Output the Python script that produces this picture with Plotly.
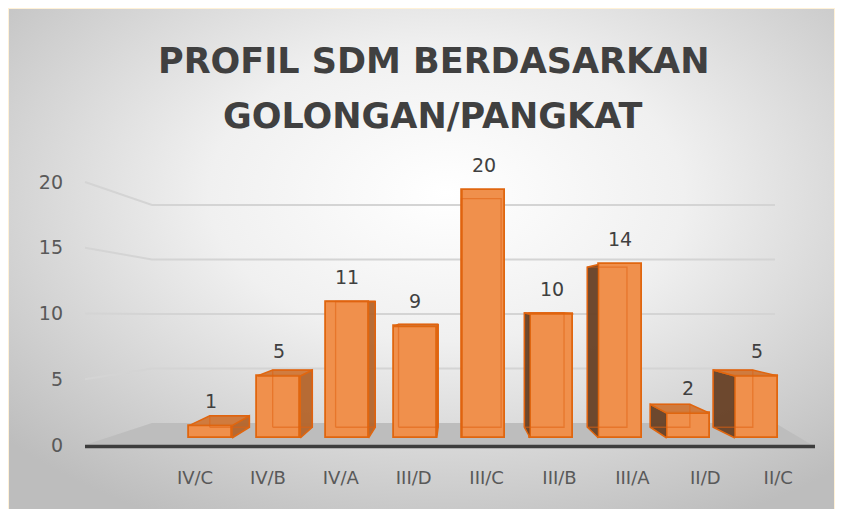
import base64
import plotly.graph_objects as go

# ---------------- data ----------------
categories = ["IV/C", "IV/B", "IV/A", "III/D", "III/C", "III/B", "III/A", "II/D", "II/C"]
values = [1, 5, 11, 9, 20, 10, 14, 2, 5]
y_ticks = [0, 5, 10, 15, 20]
title_lines = ["PROFIL SDM BERDASARKAN", "GOLONGAN/PANGKAT"]

# ---------------- geometry (page-pixel styling constants) ----------------
PAGE_W, PAGE_H = 843, 509
OFF = 8                                 # browser body margin
W, H = PAGE_W - OFF, PAGE_H - OFF
L, R, T, B = 68, 832, 140, 460          # plot area (page pixels)
BAR_X0, BAR_DX = 210.5, 68.25          # first bar centre / spacing (front faces)
LAB_X0, LAB_DX = 195.0, 72.9           # category label centres
BAR_Y0, BAR_DY = 438.0, 12.4           # bar base / px per unit
FRONT_Y0, FRONT_DY = 445.0, 13.15      # front edge of the y scale
BACK_Y0, BACK_DY = 423.0, 10.9         # back wall scale
WALL_FRONT_X, WALL_BACK_X, WALL_END_X = 85, 152, 775
FLOOR_RIGHT_FRONT = 812
AXIS_END = 815
VP = (455.0, 300.0)                     # vanishing point
DEPTH = 0.078
HALF_W = 0.315


def X(px):
    return (px - BAR_X0) / BAR_DX


def Y(py):
    return (BAR_Y0 - py) / BAR_DY


def PX(px):
    return (px - L) / (R - L)


def PY(py):
    return (B - py) / (B - T)


def path(pts, close=True):
    s = "M " + " L ".join(f"{x:.5f},{y:.5f}" for x, y in pts)
    return s + (" Z" if close else "")


vx, vy = X(VP[0]), Y(VP[1])


def back(p):
    return (p[0] + (vx - p[0]) * DEPTH, p[1] + (vy - p[1]) * DEPTH)


fig = go.Figure()
shapes = []

# floor
floor = [(X(WALL_FRONT_X), Y(FRONT_Y0)), (X(WALL_BACK_X), Y(BACK_Y0)),
         (X(WALL_END_X), Y(BACK_Y0)), (X(FLOOR_RIGHT_FRONT), Y(FRONT_Y0))]
shapes.append(dict(type="path", xref="x", yref="y", path=path(floor), fillcolor="#BDBDBD",
                   line=dict(width=0), layer="below"))

# perspective grid lines
for t in y_ticks[1:]:
    pts = [(X(WALL_FRONT_X), Y(FRONT_Y0 - FRONT_DY * t)),
           (X(WALL_BACK_X), Y(BACK_Y0 - BACK_DY * t)),
           (X(WALL_END_X), Y(BACK_Y0 - BACK_DY * t))]
    shapes.append(dict(type="path", xref="x", yref="y", path=path(pts, close=False),
                       line=dict(color="#D4D4D4", width=2), layer="below"))

# axis base line
shapes.append(dict(type="line", xref="x", yref="y", x0=X(WALL_FRONT_X), x1=X(AXIS_END),
                   y0=Y(FRONT_Y0 + 1.5), y1=Y(FRONT_Y0 + 1.5),
                   line=dict(color="#3D3D3D", width=3.5), layer="below"))

OUT = "#E0660F"

# front faces
fig.add_trace(go.Bar(x=list(range(len(values))), y=values, width=2 * HALF_W,
                     marker=dict(color="#F0904C", line=dict(color=OUT, width=1.8)),
                     hoverinfo="skip", showlegend=False))

# side + top faces
for i, v in enumerate(values):
    xl, xr = i - HALF_W, i + HALF_W
    fl_b, fl_t, fr_b, fr_t = (xl, 0), (xl, v), (xr, 0), (xr, v)
    bl_b, bl_t, br_b, br_t = back(fl_b), back(fl_t), back(fr_b), back(fr_t)
    faces = []
    if xr < vx - 0.02:
        faces.append(([fr_b, fr_t, br_t, br_b], "rgba(180,100,42,0.95)"))
    if xl > vx + 0.02:
        faces.append(([fl_b, fl_t, bl_t, bl_b], "rgba(104,66,38,0.96)"))
    if v < vy:
        faces.append(([fl_t, fr_t, br_t, bl_t], "rgba(208,118,54,0.95)"))
    for pts, col in faces:
        pts = pts + [pts[0]]
        fig.add_trace(go.Scatter(x=[p[0] for p in pts], y=[p[1] for p in pts], mode="lines",
                                 fill="toself", fillcolor=col, line=dict(color=OUT, width=1.5),
                                 hoverinfo="skip", showlegend=False))

# back edges seen through the front faces
for i, v in enumerate(values):
    xl, xr = i - HALF_W, i + HALF_W
    pts = [back((xl, 0)), back((xr, 0)), back((xr, v)), back((xl, v)), back((xl, 0))]
    fig.add_trace(go.Scatter(x=[p[0] for p in pts], y=[p[1] for p in pts], mode="lines",
                             line=dict(color="rgba(224,96,16,0.55)", width=1.3),
                             hoverinfo="skip", showlegend=False))

# data labels
for i, v in enumerate(values):
    fig.add_annotation(x=i, y=v, text=str(v), showarrow=False, yshift=25,
                       font=dict(family="DejaVu Sans", size=19, color="#404040"))

# title
for k, line in enumerate(title_lines):
    fig.add_annotation(xref="paper", yref="paper", x=PX(433), y=PY(61 + 55 * k), text=line,
                       showarrow=False, xanchor="center", yanchor="middle",
                       font=dict(family="DejaVu Sans", size=35, color="#404040", weight="bold"))

# background radial gradient
CX0, CY0, CX1, CY1 = 9, 9, 834, 520
gw, gh = CX1 - CX0, CY1 - CY0
svg = (f'<svg xmlns="http://www.w3.org/2000/svg" width="{gw}" height="{gh}" viewBox="0 0 {gw} {gh}" '
       f'preserveAspectRatio="none"><defs><radialGradient id="g" cx="0.53" cy="0.36" r="0.72">'
       f'<stop offset="0" stop-color="#FFFFFF"/><stop offset="0.4" stop-color="#F0F0F0"/>'
       f'<stop offset="1" stop-color="#BDBDBD"/></radialGradient></defs>'
       f'<rect width="{gw}" height="{gh}" fill="url(#g)"/></svg>')
src = "data:image/svg+xml;base64," + base64.b64encode(svg.encode()).decode()
fig.add_layout_image(dict(source=src, xref="paper", yref="paper", x=PX(CX0), y=PY(CY0),
                          sizex=gw / (R - L), sizey=gh / (B - T), xanchor="left", yanchor="top",
                          sizing="stretch", layer="below"))

fig.update_layout(
    width=W, height=H,
    margin=dict(l=L - OFF, r=PAGE_W - R, t=T - OFF, b=PAGE_H - B, pad=0, autoexpand=False),
    paper_bgcolor="#FFF1D6", plot_bgcolor="rgba(0,0,0,0)",
    bargap=0, showlegend=False, shapes=shapes,
    xaxis=dict(range=[X(L), X(R)], showgrid=False, zeroline=False, showline=False,
               tickmode="array", tickvals=[X(LAB_X0 + LAB_DX * j) for j in range(len(categories))],
               ticktext=categories, ticks="", ticklabelstandoff=5, automargin=False,
               tickfont=dict(family="DejaVu Sans", size=18, color="#595959")),
    yaxis=dict(range=[Y(B), Y(T)], showgrid=False, zeroline=False, showline=False,
               tickmode="array", tickvals=[Y(FRONT_Y0 - FRONT_DY * t) for t in y_ticks],
               ticktext=[str(t) for t in y_ticks], ticks="", ticklabelstandoff=4, automargin=False,
               tickfont=dict(family="DejaVu Sans", size=19, color="#595959")),
)

fig.write_html("out.html")
